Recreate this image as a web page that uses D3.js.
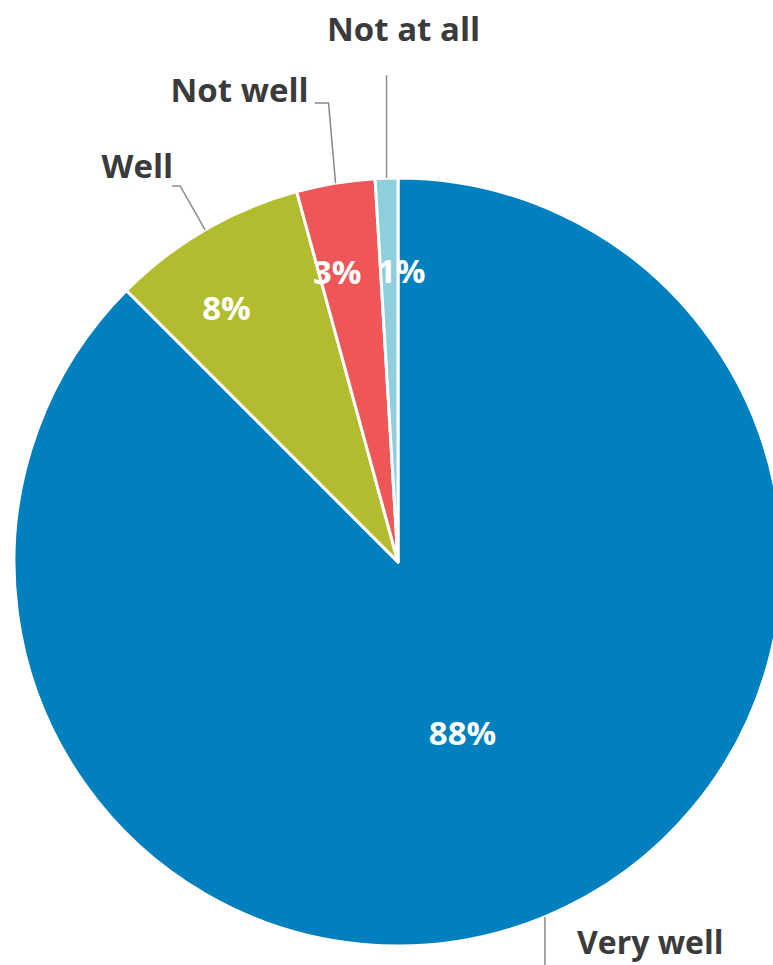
<!DOCTYPE html>
<html>
<head>
<meta charset="utf-8">
<script src="https://cdn.jsdelivr.net/npm/d3@7"></script>
<style>
  html, body { margin: 0; padding: 0; background: #fff; overflow: hidden; }
  svg { display: block; }
</style>
</head>
<body>
<svg id="chart" width="773" height="965"></svg>
<script>
// ---- data ----
const categories = ["Very well", "Well", "Not well", "Not at all"];
const values = [87.5, 8.25, 3.3, 0.95];
const colors = ["#0080be", "#b3bc2e", "#ee5658", "#8dcfdc"];

// ---- layout ----
const W = 773, H = 965;
const cx = 398, cy = 562, R = 384;
const fontFamily = "'Open Sans', 'Noto Sans', sans-serif";
const textColor = "#3b3b3d";
const lineColor = "#8a8a8a";
const fontSize = 33;

// leader lines: offsets (relative to slice edge point) for the path and the label
const leaders = {
  "Very well":  { pts: [[0, 0], [0, 60]], label: [32, 37], anchor: "start", size: 32 },
  "Well":       { pts: [[0, 0], [-25, -44], [-33, -44]], label: [-32, -52], anchor: "end", size: 33 },
  "Not well":   { pts: [[0, 0], [-7, -80], [-21, -80]], label: [-27, -81], anchor: "end", size: 33 },
  "Not at all": { pts: [[0, 0], [0, -103]], label: [17, -137], anchor: "middle", size: 33 }
};
// small nudges of the in-slice percentage labels
const pctNudge = {
  "Very well": [-6, 1],
  "Well": [-24, 0],
  "Not well": [-13, 0],
  "Not at all": [12, 3]
};

const svg = d3.select("#chart");
const g = svg.append("g").attr("transform", `translate(${cx},${cy})`);

const data = categories.map((c, i) => ({ category: c, value: values[i], color: colors[i] }));

const pie = d3.pie().sort(null).value(d => d.value).startAngle(0).endAngle(2 * Math.PI);
const arcs = pie(data);
const arc = d3.arc().innerRadius(0).outerRadius(R);
const edgeArc = d3.arc().innerRadius(R).outerRadius(R);

g.selectAll("path.slice")
  .data(arcs)
  .join("path")
  .attr("class", "slice")
  .attr("d", arc)
  .attr("fill", d => d.data.color)
  .attr("stroke", "#fff")
  .attr("stroke-width", 3)
  .attr("stroke-linejoin", "round");

// percentage labels inside slices
g.selectAll("text.pct")
  .data(arcs)
  .join("text")
  .attr("class", "pct")
  .attr("transform", d => {
    const r = d.data.value > 50 ? R * 0.48 : R * 0.765;
    const c = d3.arc().innerRadius(r).outerRadius(r).centroid(d);
    const n = pctNudge[d.data.category];
    return `translate(${c[0] + n[0]},${c[1] + n[1]})`;
  })
  .attr("text-anchor", "middle")
  .attr("dy", "0.36em")
  .attr("fill", "#fff")
  .attr("font-family", fontFamily)
  .attr("font-weight", 700)
  .attr("font-size", fontSize)
  .text(d => Math.round(d.value) + "%");

// leader lines and category labels
const line = d3.line();
arcs.forEach(d => {
  const p0 = edgeArc.centroid(d);
  const L = leaders[d.data.category];
  const pts = L.pts.map(p => [p0[0] + p[0], p0[1] + p[1]]);
  g.append("path")
    .attr("d", line(pts))
    .attr("fill", "none")
    .attr("stroke", lineColor)
    .attr("stroke-width", 1.5);
  g.append("text")
    .attr("x", p0[0] + L.label[0])
    .attr("y", p0[1] + L.label[1])
    .attr("text-anchor", L.anchor)
    .attr("fill", textColor)
    .attr("font-family", fontFamily)
    .attr("font-weight", 700)
    .attr("font-size", L.size)
    .text(d.data.category);
});
</script>
</body>
</html>
